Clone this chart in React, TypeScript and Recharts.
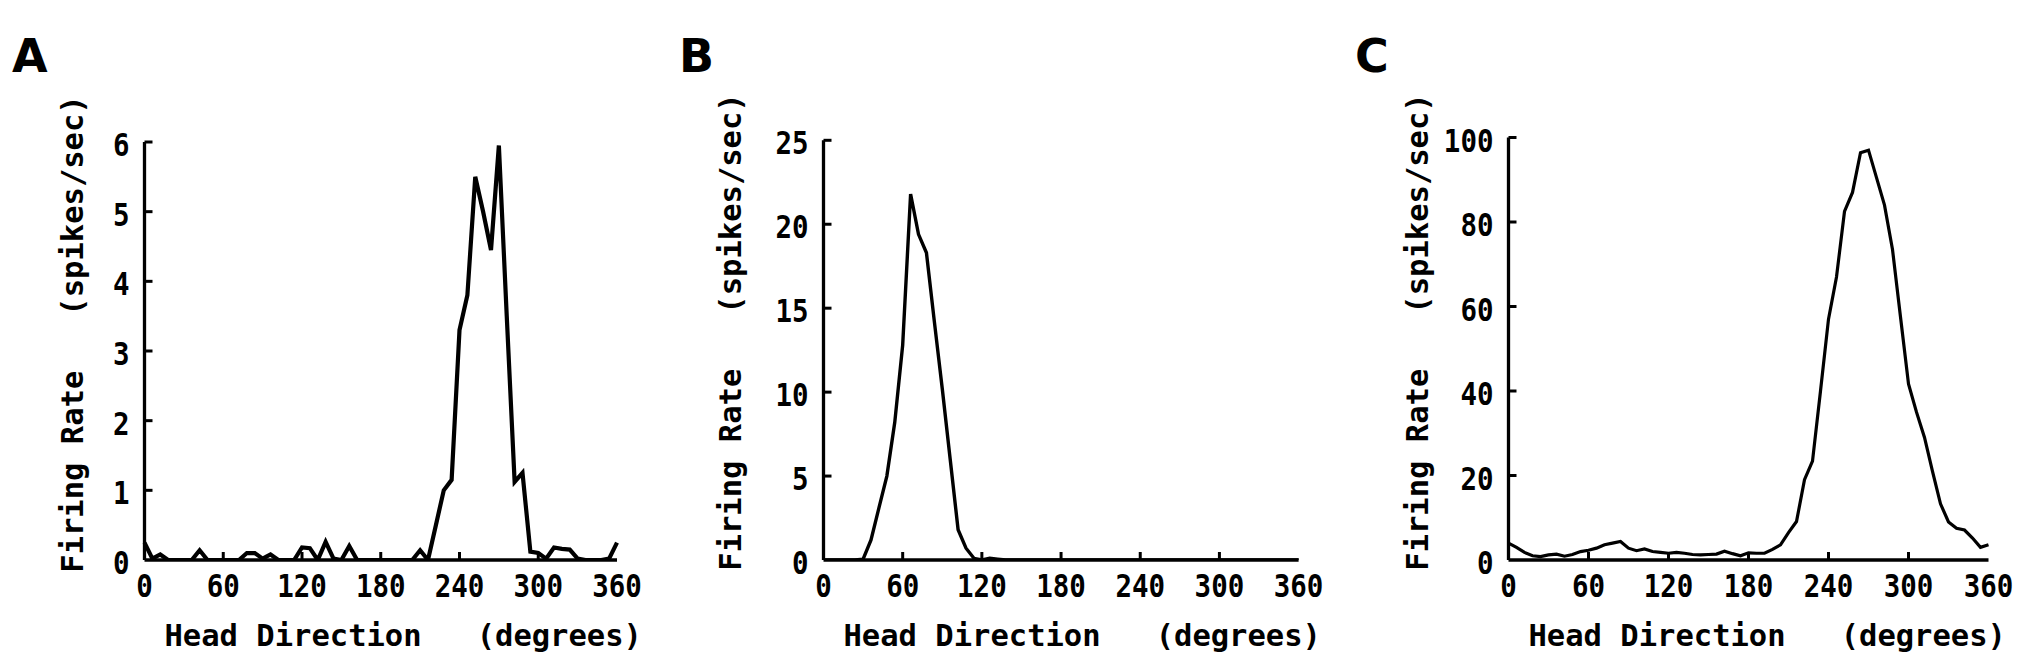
import React from 'react';
import { LineChart, Line, XAxis, YAxis } from 'recharts';

// Head direction bins (degrees)
const directions = [
  0, 6, 12, 18, 24, 30, 36, 42, 48, 54, 60, 66, 72, 78, 84, 90, 96, 102, 108, 114,
  120, 126, 132, 138, 144, 150, 156, 162, 168, 174, 180, 186, 192, 198, 204, 210,
  216, 222, 228, 234, 240, 246, 252, 258, 264, 270, 276, 282, 288, 294, 300, 306,
  312, 318, 324, 330, 336, 342, 348, 354, 360,
];

// Panel A firing rate (spikes/sec)
const ratesA = [
  0.25, 0.02, 0.08, 0, 0, 0, 0, 0.14, 0, 0, 0, 0, 0, 0.1, 0.1, 0.02, 0.08, 0, 0, 0,
  0.18, 0.17, 0, 0.26, 0.02, 0, 0.2, 0, 0, 0, 0, 0, 0, 0, 0, 0.14,
  0, 0.5, 1.0, 1.15, 3.3, 3.8, 5.5, 5.0, 4.45, 5.95, 3.5, 1.12, 1.25, 0.12, 0.1, 0.02,
  0.18, 0.16, 0.15, 0.02, 0, 0, 0, 0.02, 0.25,
];

// Panel B firing rate (spikes/sec)
const ratesB = [
  0, 0, 0, 0, 0, 0.05, 1.2, 3.1, 5.0, 8.2, 12.8, 21.8, 19.4, 18.3, 14.2, 10.2, 6.0, 1.8, 0.7, 0.1,
  0, 0.1, 0.05, 0, 0, 0, 0, 0, 0, 0, 0, 0, 0, 0, 0, 0,
  0, 0, 0, 0, 0, 0, 0, 0, 0, 0, 0, 0, 0, 0, 0, 0,
  0, 0, 0, 0, 0, 0, 0, 0, 0,
];

// Panel C firing rate (spikes/sec)
const ratesC = [
  4.0, 3.0, 1.8, 1.0, 0.8, 1.2, 1.4, 0.9, 1.3, 2.0, 2.3, 2.8, 3.6, 4.0, 4.4, 2.8, 2.2, 2.6, 2.0, 1.8,
  1.6, 1.8, 1.6, 1.3, 1.2, 1.3, 1.4, 2.1, 1.5, 1.0, 1.7, 1.6, 1.6, 2.5, 3.6, 6.5,
  9.1, 19.0, 23.4, 40.0, 57.0, 67.0, 82.5, 87.0, 96.4, 97.0, 90.5, 84.0, 73.5, 57.5, 41.7, 35.0,
  29.0, 21.0, 13.3, 9.0, 7.5, 7.1, 5.2, 3.0, 3.6,
];

const xTicks = [0, 60, 120, 180, 240, 300, 360];
const yTicksA = [0, 1, 2, 3, 4, 5, 6];
const yTicksB = [0, 5, 10, 15, 20, 25];
const yTicksC = [0, 20, 40, 60, 80, 100];

const xTitle = 'Head Direction   (degrees)';
const yTitle = 'Firing Rate   (spikes/sec)';

const MONO = '"DejaVu Sans Mono", monospace';
const H = 667;
const PLOT_BOTTOM = 560;

const XTick = (props: any) => {
  const { x, y, payload } = props;
  const v = payload.value;
  return (
    <g>
      {v !== 0 && v !== 360 && (
        <line x1={x} x2={x} y1={y} y2={y - 8} stroke="#000" strokeWidth={3} />
      )}
      <text
        transform={`translate(${x},${y + 37}) scale(1,1.18)`}
        textAnchor="middle"
        fontFamily={MONO}
        fontWeight="bold"
        fontSize={27.5}
        fill="#000"
      >
        {v}
      </text>
    </g>
  );
};

const YTick = (props: any) => {
  const { x, y, payload } = props;
  const v = payload.value;
  return (
    <g>
      {v !== 0 && (
        <line x1={x} x2={x + 8} y1={y} y2={y} stroke="#000" strokeWidth={3} />
      )}
      <text
        transform={`translate(${x - 15},${y + 14}) scale(1,1.18)`}
        textAnchor="end"
        fontFamily={MONO}
        fontWeight="bold"
        fontSize={27.5}
        fill="#000"
      >
        {v}
      </text>
    </g>
  );
};

type PanelProps = {
  left: number;
  width: number;
  plotLeft: number;
  plotRight: number;
  plotTop: number;
  rates: number[];
  yTicks: number[];
  yMax: number;
  strokeWidth: number;
  yTitleDx: number;
  yTitleCy: number;
  letter: string;
  letterLeft: number;
};

const Panel = (p: PanelProps) => {
  const data = directions.map((deg, i) => ({ deg, rate: p.rates[i] }));
  const yAxisWidth = p.plotLeft - p.left;
  const rightMargin = p.left + p.width - p.plotRight;
  const XTitle = (lp: any) => {
    const vb = lp.viewBox;
    return (
      <text
        x={vb.x + 20}
        y={PLOT_BOTTOM + 86}
        fontFamily={MONO}
        fontWeight="bold"
        fontSize={30.5}
        fill="#000"
        style={{ whiteSpace: 'pre' }}
      >
        {xTitle}
      </text>
    );
  };
  const YTitle = (lp: any) => {
    const vb = lp.viewBox;
    const cx = vb.x + vb.width - p.yTitleDx;
    const cy = p.yTitleCy;
    return (
      <text
        x={cx}
        y={cy}
        transform={`rotate(-90, ${cx}, ${cy})`}
        textAnchor="middle"
        dominantBaseline="central"
        fontFamily={MONO}
        fontWeight="bold"
        fontSize={30.5}
        fill="#000"
        style={{ whiteSpace: 'pre' }}
      >
        {yTitle}
      </text>
    );
  };
  return (
    <>
      <div
        style={{
          position: 'absolute',
          left: p.letterLeft,
          top: 33,
          fontFamily: '"DejaVu Sans", sans-serif',
          fontWeight: 'bold',
          fontSize: 46,
          lineHeight: 1,
          color: '#000',
        }}
      >
        {p.letter}
      </div>
      <div style={{ position: 'absolute', left: p.left, top: 0, width: p.width, height: H }}>
        <LineChart
          width={p.width}
          height={H}
          data={data}
          margin={{ top: p.plotTop, bottom: 0, left: 0, right: rightMargin }}
        >
          <XAxis
            dataKey="deg"
            type="number"
            domain={[0, 360]}
            ticks={xTicks}
            interval={0}
            tickSize={0}
            tickMargin={0}
            tickLine={false}
            axisLine={{ stroke: '#000', strokeWidth: 3.3 }}
            tick={<XTick />}
            height={H - PLOT_BOTTOM}
            label={{ content: XTitle }}
          />
          <YAxis
            type="number"
            domain={[0, p.yMax]}
            ticks={p.yTicks}
            interval={0}
            tickSize={0}
            tickMargin={0}
            tickLine={false}
            axisLine={{ stroke: '#000', strokeWidth: 3.3 }}
            tick={<YTick />}
            width={yAxisWidth}
            allowDataOverflow
            label={{ content: YTitle }}
          />
          <Line
            type="linear"
            dataKey="rate"
            stroke="#000"
            strokeWidth={p.strokeWidth}
            dot={false}
            isAnimationActive={false}
          />
        </LineChart>
      </div>
    </>
  );
};

export default function App() {
  return (
    <div
      style={{
        position: 'absolute',
        left: 0,
        top: 0,
        width: 2025,
        height: H,
        background: '#fff',
        overflow: 'hidden',
      }}
    >
      <Panel
        left={0}
        width={680}
        plotLeft={144.5}
        plotRight={617}
        plotTop={142}
        rates={ratesA}
        yTicks={yTicksA}
        yMax={6}
        strokeWidth={4.2}
        yTitleDx={72}
        yTitleCy={334}
        letter="A"
        letterLeft={12}
      />
      <Panel
        left={680}
        width={665}
        plotLeft={823.5}
        plotRight={1298.6}
        plotTop={140.3}
        rates={ratesB}
        yTicks={yTicksB}
        yMax={25}
        strokeWidth={3.4}
        yTitleDx={93}
        yTitleCy={332}
        letter="B"
        letterLeft={679}
      />
      <Panel
        left={1345}
        width={680}
        plotLeft={1508.5}
        plotRight={1988.5}
        plotTop={137.5}
        rates={ratesC}
        yTicks={yTicksC}
        yMax={100}
        strokeWidth={3.2}
        yTitleDx={91}
        yTitleCy={332}
        letter="C"
        letterLeft={1355}
      />
    </div>
  );
}
